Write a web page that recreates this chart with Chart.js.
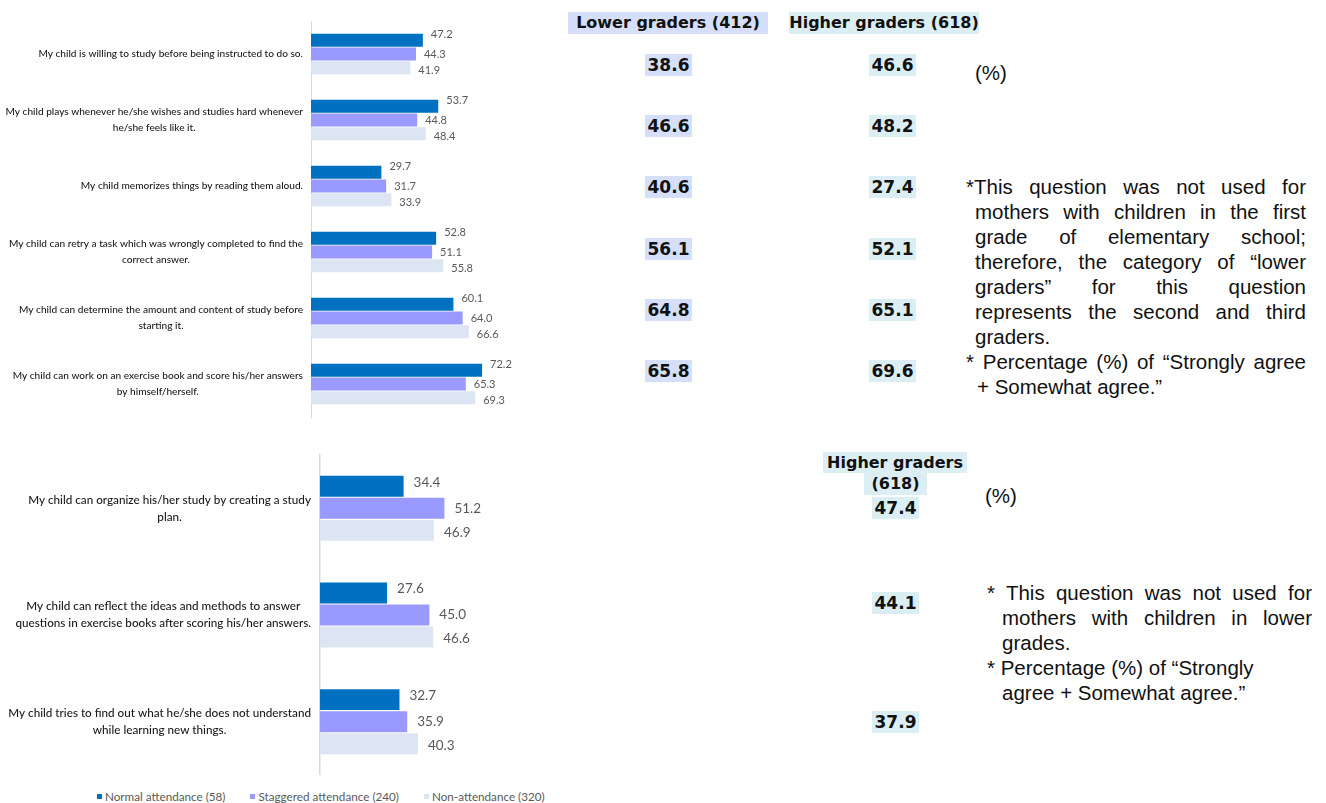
<!DOCTYPE html>
<html>
<head>
<meta charset="utf-8">
<script src="https://cdn.jsdelivr.net/npm/chart.js@4.4.1/dist/chart.umd.min.js"></script>
<style>
  body { margin: 0; width: 1326px; height: 803px; background: #fff; position: relative; overflow: hidden; }
  canvas { position: absolute; }
  .box { position: absolute; font-family: "DejaVu Sans", sans-serif; font-weight: bold; color: #111; text-align: center; white-space: nowrap; }
  .lowerBg { background: #d5dff9; }
  .higherBg { background: #dbeef4; }
  .pct { position: absolute; font-family: Arial, "Liberation Sans", sans-serif; font-size: 20.5px; color: #111; }
  .note { position: absolute; font-family: Arial, "Liberation Sans", sans-serif; font-size: 20.5px; color: #111; }
  .note div { height: 25px; line-height: 25px; white-space: nowrap; }
  .note .j { text-align: justify; text-align-last: justify; white-space: normal; }
  #legend { position: absolute; left: 97px; top: 788px; height: 16px; display: flex; align-items: center;
            font-family: Lato, sans-serif; font-size: 11.7px; color: #595959; white-space: nowrap; }
  #legend span.item { display: flex; align-items: center; margin-right: 25px; }
  #legend span.mark { width: 5px; height: 5px; margin-right: 3px; }
</style>
</head>
<body>
<canvas id="topChart" width="560" height="420" style="left:0;top:0;width:560px;height:420px"></canvas>
<canvas id="bottomChart" width="580" height="335" style="left:0;top:440px;width:580px;height:335px"></canvas>
<div id="legend"></div>

<div id="topTable"></div>
<div id="bottomTable"></div>

<div class="pct" style="left:975px;top:61px">(%)</div>
<div class="pct" style="left:985px;top:484px">(%)</div>

<div class="note" style="left:966px;top:174px;width:340px">
  <div class="j">*This question was not used for</div>
  <div class="j" style="padding-left:9px">mothers with children in the first</div>
  <div class="j" style="padding-left:9px">grade of elementary school;</div>
  <div class="j" style="padding-left:9px">therefore, the category of “lower</div>
  <div class="j" style="padding-left:9px">graders” for this question</div>
  <div class="j" style="padding-left:9px">represents the second and third</div>
  <div style="padding-left:9px">graders.</div>
  <div class="j">* Percentage (%) of “Strongly agree</div>
  <div style="padding-left:11px">+ Somewhat agree.”</div>
</div>

<div class="note" style="left:987px;top:580px;width:325px">
  <div class="j">* This question was not used for</div>
  <div class="j" style="padding-left:15px">mothers with children in lower</div>
  <div style="padding-left:15px">grades.</div>
  <div>* Percentage (%) of “Strongly</div>
  <div style="padding-left:15px">agree + Somewhat agree.”</div>
</div>

<script>
// Series and categories
const seriesNames = ['Normal attendance (58)', 'Staggered attendance (240)', 'Non-attendance (320)'];
const seriesColors = ['#0070c0', '#9999ff', '#dce6f3'];

const topQuestions = [
  ['My child is willing to study before being instructed to do so.'],
  ['My child plays whenever he/she wishes and studies hard whenever', 'he/she feels like it.'],
  ['My child memorizes things by reading them aloud.'],
  ['My child can retry a task which was wrongly completed to find the', 'correct answer.'],
  ['My child can determine the amount and content of study before', 'starting it.'],
  ['My child can work on an exercise book and score his/her answers', 'by himself/herself.']
];
const topNormal = [47.2, 53.7, 29.7, 52.8, 60.1, 72.2];
const topStaggered = [44.3, 44.8, 31.7, 51.1, 64.0, 65.3];
const topNonAttend = [41.9, 48.4, 33.9, 55.8, 66.6, 69.3];
const topLowerGraders = ['38.6', '46.6', '40.6', '56.1', '64.8', '65.8'];
const topHigherGraders = ['46.6', '48.2', '27.4', '52.1', '65.1', '69.6'];

const bottomQuestions = [
  ['My child can organize his/her study by creating a study', 'plan.'],
  ['My child can reflect the ideas and methods to answer', 'questions in exercise books after scoring his/her answers.'],
  ['My child tries to find out what he/she does not understand', 'while learning new things.']
];
const bottomNormal = [34.4, 27.6, 32.7];
const bottomStaggered = [51.2, 45.0, 35.9];
const bottomNonAttend = [46.9, 46.6, 40.3];
const bottomHigherGraders = ['47.4', '44.1', '37.9'];

// labels left of the axis + value labels at bar ends
const sideLabels = {
  id: 'sideLabels',
  afterDraw(chart, args, opts) {
    const ctx = chart.ctx;
    const yScale = chart.scales.y;
    ctx.save();
    ctx.font = opts.font;
    ctx.fillStyle = '#1a1a1a';
    ctx.textAlign = 'center';
    ctx.textBaseline = 'middle';
    chart.data.labels.forEach((lines, i) => {
      const y = yScale.getPixelForValue(i);
      const w = Math.max(...lines.map(l => ctx.measureText(l).width));
      const cx = chart.chartArea.left - opts.gap - w / 2;
      lines.forEach((line, j) => {
        ctx.fillText(line, cx, y + (j - (lines.length - 1) / 2) * opts.lineHeight);
      });
    });
    ctx.font = opts.valueFont;
    ctx.fillStyle = '#595959';
    ctx.textAlign = 'left';
    chart.data.datasets.forEach((ds, d) => {
      chart.getDatasetMeta(d).data.forEach((bar, i) => {
        ctx.fillText(ds.data[i].toFixed(1), bar.x + opts.valueGap, bar.y + opts.nudge[d]);
      });
    });
    ctx.restore();
  }
};

function makeDatasets(a, b, c) {
  return [a, b, c].map((data, i) => ({
    label: seriesNames[i],
    data: data,
    backgroundColor: seriesColors[i]
  }));
}

new Chart(document.getElementById('topChart'), {
  type: 'bar',
  data: { labels: topQuestions, datasets: makeDatasets(topNormal, topStaggered, topNonAttend) },
  options: {
    indexAxis: 'y',
    responsive: false,
    animation: false,
    layout: { padding: { top: 21, bottom: 3, right: 12 } },
    datasets: { bar: { categoryPercentage: 0.63, barPercentage: 0.94 } },
    scales: {
      x: { display: false, min: 0, max: 100 },
      y: {
        afterFit: s => { s.width = 311; },
        ticks: { display: false },
        grid: { display: false },
        border: { color: '#d9d9d9' }
      }
    },
    plugins: {
      legend: { display: false },
      tooltip: { enabled: false },
      sideLabels: { font: '500 10.1px Lato', lineHeight: 16, gap: 8, valueFont: '11px Lato', valueGap: 8, nudge: [-6, 0, 3] }
    }
  },
  plugins: [sideLabels]
});

const bottomChart = new Chart(document.getElementById('bottomChart'), {
  type: 'bar',
  data: { labels: bottomQuestions, datasets: makeDatasets(bottomNormal, bottomStaggered, bottomNonAttend) },
  options: {
    indexAxis: 'y',
    responsive: false,
    animation: false,
    layout: { padding: { top: 15, right: 17, bottom: 0 } },
    datasets: { bar: { categoryPercentage: 0.62, barPercentage: 0.95 } },
    scales: {
      x: { display: false, min: 0, max: 100 },
      y: {
        afterFit: s => { s.width = 320; },
        ticks: { display: false },
        grid: { display: false },
        border: { color: '#d9d9d9', width: 1.5 }
      }
    },
    plugins: {
      legend: { display: false },
      tooltip: { enabled: false },
      sideLabels: { font: '500 11.7px Lato', lineHeight: 17, gap: 9, valueFont: '13.5px Lato', valueGap: 10, nudge: [-4, 0, 2] }
    }
  },
  plugins: [sideLabels]
});

// legend under the bottom chart, built from the chart's own legend items
const legendEl = document.getElementById('legend');
bottomChart.options.plugins.legend.labels.generateLabels(bottomChart).forEach(item => {
  const span = document.createElement('span');
  span.className = 'item';
  span.innerHTML = `<span class="mark" style="background:${item.fillStyle}"></span>${item.text}`;
  legendEl.appendChild(span);
});

// grader columns (text tables beside the charts)
function addBox(parent, text, cls, left, top, width, height, size) {
  const el = document.createElement('div');
  el.className = 'box ' + cls;
  el.textContent = text;
  el.style.cssText = `left:${left}px;top:${top}px;width:${width}px;height:${height}px;line-height:${height}px;font-size:${size}px`;
  parent.appendChild(el);
}

const topTable = document.getElementById('topTable');
addBox(topTable, 'Lower graders (412)', 'lowerBg', 568, 12, 200, 22, 16);
addBox(topTable, 'Higher graders (618)', 'higherBg', 789, 12, 190, 22, 16);
topLowerGraders.forEach((v, i) => {
  addBox(topTable, v, 'lowerBg', 645, 54 + i * 61.2, 47, 22, 17);
  addBox(topTable, topHigherGraders[i], 'higherBg', 869, 54 + i * 61.2, 47, 22, 17);
});

const bottomTable = document.getElementById('bottomTable');
addBox(bottomTable, 'Higher graders', 'higherBg', 823, 452, 144, 21, 16);
addBox(bottomTable, '(618)', 'higherBg', 864, 473, 63, 22, 16);
const bottomRowTops = [497, 592, 711];
bottomHigherGraders.forEach((v, i) => {
  addBox(bottomTable, v, 'higherBg', 872, bottomRowTops[i], 47, 22, 17);
});
</script>
</body>
</html>
